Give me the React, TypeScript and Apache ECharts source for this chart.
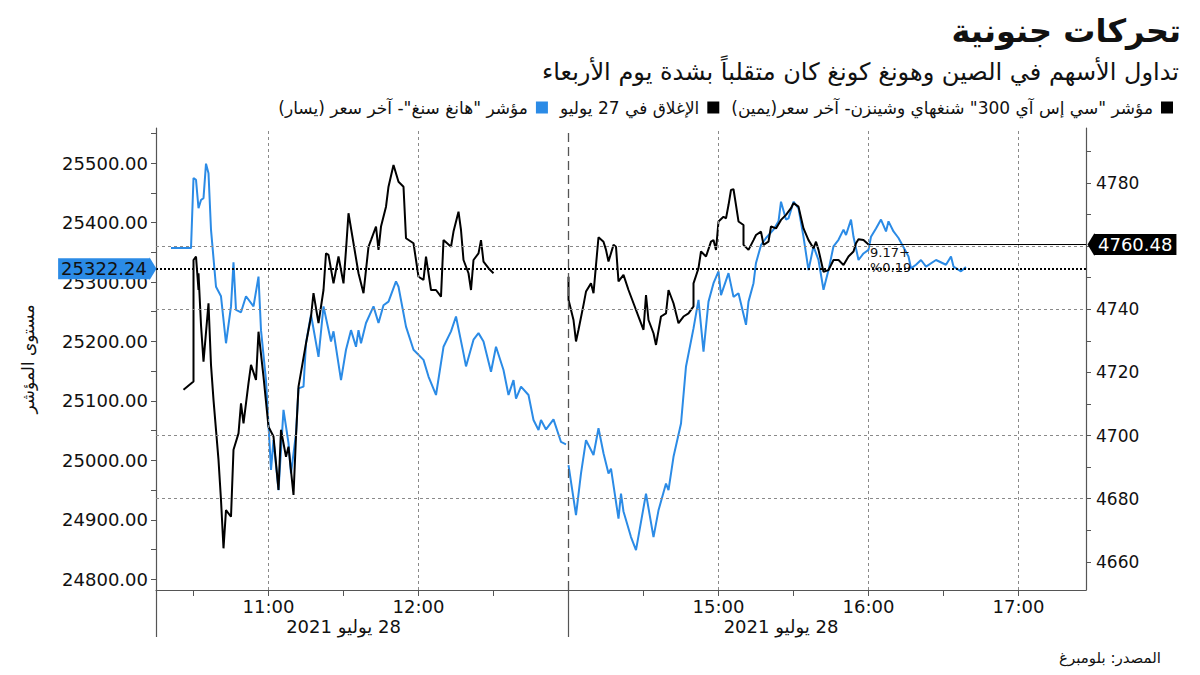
import React, { useEffect, useRef } from "react";
import * as echarts from "echarts";

// ---------- Data ----------
const hsiMorningTimes = ["10:21","10:29","10:30","10:31","10:32","10:33","10:34","10:35","10:36","10:37","10:39","10:41","10:43","10:45","10:46","10:47","10:49","10:51","10:54","10:56","10:57","10:59","11:01","11:02","11:04","11:06","11:08","11:09","11:11","11:12","11:14","11:15","11:17","11:20","11:22","11:25","11:26","11:29","11:31","11:33","11:35","11:36","11:37","11:39","11:42","11:44","11:46","11:48","11:51","11:52","11:55","11:58","12:02","12:04","12:07","12:10","12:13","12:15","12:18","12:19","12:22","12:24","12:26","12:29","12:31","12:34","12:36","12:38","12:39","12:41","12:44","12:46","12:48","12:49","12:51","12:54","12:57","12:59"];
const hsiMorningValues = [25357,25357,25475,25472,25424,25438,25441,25499,25483,25388,25292,25276,25197,25259,25333,25253,25249,25276,25259,25309,25219,25135,24984,25034,24950,25085,25029,24978,25045,25121,25124,25197,25245,25174,25259,25200,25217,25135,25186,25219,25191,25219,25197,25231,25259,25231,25261,25267,25301,25292,25225,25186,25169,25141,25110,25191,25217,25242,25180,25158,25203,25214,25200,25149,25191,25152,25110,25135,25104,25124,25110,25068,25051,25068,25052,25069,25031,25027];

const hsiAfternoonTimes = ["14:00","14:03","14:05","14:07","14:10","14:12","14:14","14:16","14:17","14:20","14:21","14:22","14:25","14:27","14:31","14:34","14:36","14:39","14:40","14:42","14:45","14:47","14:50","14:52","14:54","14:56","14:58","15:00","15:01","15:04","15:06","15:08","15:11","15:12","15:14","15:15","15:17","15:19","15:22","15:24","15:25","15:27","15:28","15:30","15:32","15:34","15:36","15:38","15:40","15:42","15:44","15:46","15:48","15:50","15:51","15:53","15:54","15:56","15:58","16:00","16:01","16:03","16:05","16:07","16:08","16:10","16:12","16:16","16:17","16:19","16:21","16:23","16:27","16:31","16:33","16:34","16:37","16:39"];
const hsiAfternoonValues = [24992,24908,24978,25034,25009,25054,25012,24978,24986,24902,24944,24914,24871,24849,24944,24871,24916,24961,24950,25006,25062,25158,25222,25270,25183,25267,25298,25318,25278,25315,25275,25281,25228,25267,25298,25332,25362,25374,25388,25402,25435,25405,25407,25435,25424,25376,25320,25360,25337,25287,25320,25360,25371,25388,25379,25405,25376,25337,25348,25354,25376,25390,25405,25385,25402,25385,25374,25343,25323,25329,25337,25326,25337,25329,25343,25326,25318,25325];

const csiMorningTimes = ["10:26","10:30","10:30","10:31","10:32","10:32","10:33","10:34","10:36","10:37","10:38","10:40","10:41","10:42","10:43","10:45","10:46","10:48","10:49","10:50","10:52","10:53","10:55","10:56","10:58","11:00","11:02","11:04","11:05","11:07","11:08","11:10","11:11","11:12","11:15","11:17","11:18","11:20","11:22","11:23","11:24","11:26","11:28","11:30","11:31","11:32","11:34","11:36","11:38","11:40","11:41","11:43","11:44","11:45","11:47","11:48","11:50","11:52","11:54","11:55","11:58","12:00","12:02","12:03","12:05","12:07","12:09","12:10","12:13","12:14","12:16","12:17","12:18","12:20","12:21","12:22","12:24","12:25","12:26","12:28","12:30"];
const csiMorningValues = [4714.5,4717.1,4755.6,4756.7,4746.1,4751.4,4735.0,4723.4,4741.9,4722.4,4711.3,4692.3,4679.6,4664.3,4676.4,4674.3,4695.5,4700.7,4710.2,4703.9,4716.6,4722.4,4717.6,4732.9,4718.7,4702.8,4699.7,4682.8,4701.8,4693.3,4696.5,4681.2,4699.7,4715.5,4729.2,4737.7,4745.1,4735.6,4746.1,4757.7,4757.2,4748.2,4756.7,4748.2,4758.8,4770.4,4760.9,4751.4,4745.1,4759.8,4761.9,4766.2,4758.8,4766.2,4772.5,4778.8,4785.7,4780.4,4778.8,4762.5,4760.9,4750.3,4749.3,4756.7,4746.1,4746.1,4744.0,4761.9,4759.8,4764.6,4770.9,4765.1,4755.6,4751.4,4746.1,4755.6,4757.7,4761.9,4755.1,4753.0,4751.4];

const csiAfternoonTimes = ["14:00","14:00","14:02","14:03","14:04","14:06","14:07","14:09","14:10","14:11","14:12","14:14","14:15","14:16","14:18","14:19","14:20","14:22","14:24","14:26","14:28","14:30","14:31","14:32","14:34","14:35","14:37","14:39","14:40","14:42","14:44","14:46","14:48","14:50","14:50","14:52","14:53","14:55","14:57","14:58","14:59","15:00","15:02","15:03","15:04","15:05","15:06","15:07","15:08","15:10","15:10","15:12","15:14","15:15","15:17","15:18","15:20","15:21","15:23","15:25","15:27","15:29","15:30","15:32","15:34","15:36","15:38","15:39","15:40","15:42","15:44","15:46","15:48","15:50","15:52","15:54","15:55","15:56","15:58","16:00"];
const csiAfternoonValues = [4750.3,4743.0,4736.6,4729.8,4733.5,4741.4,4745.6,4748.2,4745.1,4754.0,4762.8,4761.4,4758.8,4755.1,4760.4,4759.8,4748.8,4750.9,4746.1,4741.9,4737.7,4733.5,4744.5,4736.6,4732.4,4728.7,4737.7,4738.7,4746.1,4741.9,4735.6,4737.7,4738.7,4740.9,4748.2,4753.0,4758.3,4756.7,4761.4,4761.9,4758.8,4767.8,4769.3,4768.8,4773.0,4777.8,4778.0,4773.0,4767.8,4766.7,4760.4,4758.8,4761.9,4763.5,4764.6,4760.4,4761.4,4766.2,4765.6,4768.3,4769.9,4772.0,4773.6,4772.5,4765.6,4761.9,4759.3,4761.4,4758.8,4751.9,4752.4,4755.6,4755.6,4754.0,4756.7,4758.3,4760.9,4762.2,4761.9,4760.48];

const hsiPrevClose = 25322.24;
const csiLast = 4760.48;
const csiChangeText = ["9.17+", "%0.19"];

const leftTickLabels = [24800, 24900, 25000, 25100, 25200, 25300, 25400, 25500];
const leftMinorTicks = [24800, 24850, 24900, 24950, 25000, 25050, 25100, 25150, 25200, 25250, 25300, 25350, 25400, 25450, 25500, 25550];
const rightTickLabels = [4660, 4680, 4700, 4720, 4740, 4780];
const rightMinorTicks = [4660, 4670, 4680, 4690, 4700, 4710, 4720, 4730, 4740, 4750, 4760, 4770, 4780, 4790];
const hGridValues = [4760, 4740, 4700, 4680];
const xLabelTimes = ["11:00", "12:00", "15:00", "16:00", "17:00"];
const xTickTimes = ["10:30","11:00","11:30","12:00","12:30","13:00","14:30","15:00","15:30","16:00","16:30","17:00"];
const dateLabelTimes = ["11:30", "15:25"];
const dateLabel = "28 يوليو 2021";
const breakTime = "13:00";
const axisStartTime = "10:15";
const axisEndTime = "17:27";

const TITLE = "تحركات جنونية";
const SUBTITLE = "تداول الأسهم في الصين وهونغ كونغ كان متقلباً بشدة يوم الأربعاء";
const CSI_NAME = 'مؤشر "سي إس آي 300" شنغهاي وشينزن- آخر سعر(يمين)';
const CLOSE_NAME = "الإغلاق في 27 يوليو";
const HSI_NAME = 'مؤشر "هانغ سنغ"- آخر سعر (يسار)';
const Y_NAME = "مستوى المؤشر";
const SOURCE = "المصدر: بلومبرغ";

// ---------- helpers ----------
const RLE = "\u202B";
const PDF = "\u202C";
const rtl = (s: string) => RLE + s + PDF;

// trading-time axis: lunch hour (13:00-14:00) removed
function toX(t: string): number {
  const [h, m] = t.split(":").map(Number);
  const mins = h * 60 + m;
  return mins >= 14 * 60 ? mins - 60 : mins;
}
function fmtX(v: number): string {
  const mins = v > 780 ? v + 60 : v;
  const h = Math.floor(mins / 60);
  const m = Math.round(mins % 60);
  return `${h}:${m < 10 ? "0" + m : m}`;
}
function pairs(times: string[], values: number[]) {
  return times.map((t, i) => [toX(t), values[i]]);
}

const BLUE = "#2b8be6";
const FONT = "DejaVu Sans";

export default function App() {
  const ref = useRef<HTMLDivElement>(null);
  useEffect(() => {
    if (!ref.current) return;
    const chart = echarts.init(ref.current, null, { renderer: "svg" });

    const hsiData = [
      ...pairs(hsiMorningTimes, hsiMorningValues),
      [toX(breakTime) - 0.5, "-"],
      ...pairs(hsiAfternoonTimes, hsiAfternoonValues),
    ];
    const csiData = [
      ...pairs(csiMorningTimes, csiMorningValues),
      [toX(breakTime) - 0.5, "-"],
      ...pairs(csiAfternoonTimes, csiAfternoonValues),
    ];
    const lastX = toX(csiAfternoonTimes[csiAfternoonTimes.length - 1]);
    const xMin = toX(axisStartTime);
    const xMax = toX(axisEndTime);

    const gridLine = { type: [3, 3], color: "#8a8a8a", width: 1 };

    chart.setOption({
      animation: false,
      backgroundColor: "#fff",
      textStyle: { fontFamily: FONT },
      title: [
        { text: TITLE, right: 14, top: 10, textStyle: { fontSize: 32, fontWeight: "bold", color: "#111", fontFamily: FONT } },
        { text: SUBTITLE, right: 16, top: 55, textStyle: { fontSize: 24, fontWeight: "normal", color: "#111", fontFamily: FONT } },
        { text: SOURCE, right: 34, top: 645, textStyle: { fontSize: 15, fontWeight: "normal", color: "#111", fontFamily: FONT } },
      ],
      legend: {
        top: 94,
        right: 22,
        align: "right",
        icon: "rect",
        itemWidth: 12,
        itemHeight: 12,
        itemGap: 12,
        selectedMode: false,
        data: [HSI_NAME, CLOSE_NAME, CSI_NAME],
        formatter: (n: string) => rtl(n),
        textStyle: { fontSize: 17, color: "#111", fontFamily: FONT, padding: [0, 3, 0, 3] },
      },
      grid: { left: 156, right: 114, top: 128, bottom: 85 },
      xAxis: [
        {
          type: "value",
          min: xMin,
          max: xMax,
          position: "bottom",
          axisLine: { show: true, lineStyle: { color: "#555", width: 1.2 } },
          axisTick: { show: true, length: 6, customValues: xTickTimes.map(toX), lineStyle: { color: "#555" } },
          axisLabel: {
            customValues: xLabelTimes.map(toX),
            formatter: (v: number) => fmtX(v),
            fontSize: 18,
            color: "#111",
            margin: 7,
            fontFamily: FONT,
          },
          splitLine: { show: false },
        },
        {
          type: "value",
          min: xMin,
          max: xMax,
          position: "bottom",
          axisLine: { show: false },
          axisTick: { show: true, length: 47, customValues: [xMin, toX(breakTime)], lineStyle: { color: "#555", width: 1.2 } },
          axisLabel: {
            customValues: dateLabelTimes.map(toX),
            formatter: () => rtl(dateLabel),
            fontSize: 18,
            color: "#111",
            margin: 27,
            fontFamily: FONT,
          },
          splitLine: { show: false },
        },
      ],
      yAxis: [
        {
          type: "value",
          position: "left",
          min: 24782,
          max: 25559,
          name: Y_NAME,
          nameLocation: "middle",
          nameRotate: 90,
          nameGap: 120,
          nameTextStyle: { fontSize: 17, color: "#111", fontFamily: FONT },
          axisLine: { show: true, lineStyle: { color: "#555", width: 1.2 } },
          axisTick: { show: true, length: 5, customValues: leftMinorTicks, lineStyle: { color: "#555" } },
          axisLabel: {
            customValues: leftTickLabels,
            formatter: (v: number) => v.toFixed(2),
            fontSize: 18,
            color: "#111",
            margin: 8,
            fontFamily: FONT,
          },
          splitLine: { show: false },
        },
        {
          type: "value",
          position: "right",
          min: 4651.1,
          max: 4797.4,
          axisLine: { show: true, lineStyle: { color: "#555", width: 1.2 } },
          axisTick: { show: true, length: 5, customValues: rightMinorTicks, lineStyle: { color: "#555" } },
          axisLabel: {
            customValues: rightTickLabels,
            formatter: (v: number) => String(v),
            fontSize: 17,
            color: "#111",
            margin: 10,
            fontFamily: FONT,
          },
          splitLine: { show: false },
        },
      ],
      series: [
        {
          name: CSI_NAME,
          type: "line",
          xAxisIndex: 0,
          yAxisIndex: 1,
          data: csiData,
          showSymbol: false,
          connectNulls: false,
          itemStyle: { color: "#000" },
          lineStyle: { color: "#000", width: 2 },
          z: 3,
          markLine: {
            silent: true,
            symbol: "none",
            animation: false,
            label: { show: false },
            data: [
              ...hGridValues.map((v) => ({ yAxis: v, lineStyle: gridLine, label: { show: false } })),
              ...xLabelTimes.map((t) => ({ xAxis: toX(t), lineStyle: gridLine, label: { show: false } })),
              { xAxis: toX(breakTime), lineStyle: { type: [9, 5], color: "#555", width: 1.3 }, label: { show: false } },
              [
                {
                  coord: [lastX, csiLast],
                  lineStyle: { type: "solid", color: "#000", width: 1 },
                  label: {
                    show: true,
                    position: "end",
                    distance: 8,
                    formatter: csiLast.toFixed(2),
                    backgroundColor: "#000",
                    color: "#fff",
                    fontSize: 18,
                    fontFamily: FONT,
                    padding: [2, 4, 1, 4],
                  },
                },
                { coord: [xMax, csiLast] },
              ],
            ],
          },
          markPoint: {
            silent: true,
            animation: false,
            data: [
              {
                coord: [xMax, csiLast],
                symbol: "path://M10,0L0,10L10,20Z",
                symbolSize: [7, 23],
                symbolOffset: [5, 0],
                itemStyle: { color: "#000" },
                label: { show: false },
              },
              {
                coord: [lastX, csiLast],
                symbol: "circle",
                symbolSize: 1,
                itemStyle: { color: "rgba(0,0,0,0)" },
                label: {
                  show: true,
                  position: [2, 1],
                  align: "left",
                  verticalAlign: "top",
                  formatter: csiChangeText.join("\n"),
                  fontSize: 13,
                  lineHeight: 15,
                  color: "#111",
                  fontFamily: FONT,
                },
              },
            ],
          },
        },
        {
          name: HSI_NAME,
          type: "line",
          xAxisIndex: 0,
          yAxisIndex: 0,
          data: hsiData,
          showSymbol: false,
          connectNulls: false,
          itemStyle: { color: BLUE },
          lineStyle: { color: BLUE, width: 2 },
          z: 2,
          markLine: {
            silent: true,
            symbol: "none",
            animation: false,
            data: [
              {
                yAxis: hsiPrevClose,
                lineStyle: { type: "dotted", color: "#000", width: 2 },
                label: {
                  show: true,
                  position: "start",
                  distance: 6,
                  formatter: hsiPrevClose.toFixed(2),
                  backgroundColor: BLUE,
                  color: "#111",
                  fontSize: 18,
                  fontFamily: FONT,
                  padding: [2, 3, 1, 3],
                },
              },
            ],
          },
          markPoint: {
            silent: true,
            animation: false,
            data: [
              {
                coord: [xMin, hsiPrevClose],
                symbol: "path://M0,0L10,10L0,20Z",
                symbolSize: [7, 23],
                symbolOffset: [-3, 0],
                itemStyle: { color: BLUE },
                label: { show: false },
              },
            ],
          },
        },
        {
          name: CLOSE_NAME,
          type: "line",
          xAxisIndex: 0,
          yAxisIndex: 1,
          data: [],
          itemStyle: { color: "#000" },
          lineStyle: { color: "#000" },
        },
      ],
    });
    return () => chart.dispose();
  }, []);

  return (
    <div
      ref={ref}
      style={{ position: "fixed", left: 0, top: 0, width: 1200, height: 675, background: "#fff" }}
    />
  );
}
